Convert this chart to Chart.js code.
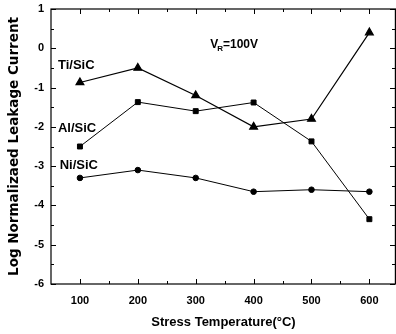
<!DOCTYPE html>
<html>
<head>
<meta charset="utf-8">
<script src="https://cdn.jsdelivr.net/npm/chart.js@4"></script>
<style>
  html, body { margin: 0; padding: 0; background: #fff; }
  #wrap { width: 396px; height: 334px; position: relative; }
</style>
</head>
<body>
<div id="wrap"><canvas id="leakChart"></canvas></div>
<script>
const temps = [100, 200, 300, 400, 500, 600];
const tiSiC = [-0.87, -0.5, -1.2, -2.0, -1.8, 0.4];
const alSiC = [-2.5, -1.37, -1.6, -1.38, -2.37, -4.35];
const niSiC = [-3.3, -3.1, -3.3, -3.65, -3.6, -3.65];
const xTicks = [100, 200, 300, 400, 500, 600];
const yTicks = [1, 0, -1, -2, -3, -4, -5, -6];

const FONT = '"Liberation Sans", Arial, sans-serif';

function toPoints(vals) {
    return temps.map((t, i) => ({ x: t, y: vals[i] }));
}

function noPadding(scale) {
    scale.paddingLeft = 0;
    scale.paddingRight = 0;
    scale.paddingTop = 0;
    scale.paddingBottom = 0;
}

// frame, inward ticks and text labels inside the plot
const framePlugin = {
    id: 'frame',
    afterDraw(chart) {
        const { ctx, chartArea: a, scales: { x, y } } = chart;
        ctx.save();
        ctx.strokeStyle = '#000';
        ctx.lineWidth = 1.2;
        ctx.strokeRect(a.left, a.top, a.right - a.left - 0.6, a.bottom - a.top);

        ctx.lineWidth = 1;
        ctx.beginPath();
        for (let v = 100; v <= 650; v += 50) {
            const px = Math.round(x.getPixelForValue(v)) + 0.5;
            if (px > a.right - 1) continue;
            const len = v % 100 === 0 ? 5 : 3;
            ctx.moveTo(px, a.bottom); ctx.lineTo(px, a.bottom - len);
            ctx.moveTo(px, a.top); ctx.lineTo(px, a.top + len);
        }
        for (let v = -6; v <= 1; v += 0.5) {
            const py = Math.round(y.getPixelForValue(v)) + 0.5;
            const len = Number.isInteger(v) ? 5 : 3;
            ctx.moveTo(a.left, py); ctx.lineTo(a.left + len, py);
            ctx.moveTo(a.right - 1, py); ctx.lineTo(a.right - 1 - len, py);
        }
        ctx.stroke();

        ctx.fillStyle = '#000';
        ctx.font = 'bold 13px ' + FONT;
        ctx.textBaseline = 'middle';
        ctx.textAlign = 'left';
        ctx.fillText('Ti/SiC', x.getPixelForValue(62), y.getPixelForValue(-0.43));
        ctx.fillText('Al/SiC', x.getPixelForValue(62), y.getPixelForValue(-2.03));
        ctx.fillText('Ni/SiC', x.getPixelForValue(65), y.getPixelForValue(-2.97));

        // V_R = 100V
        const vx = x.getPixelForValue(325);
        const vy = y.getPixelForValue(0.08);
        ctx.font = 'bold 12px ' + FONT;
        ctx.fillText('V', vx, vy);
        const vw = ctx.measureText('V').width;
        ctx.font = 'bold 8px ' + FONT;
        ctx.fillText('R', vx + vw - 1, vy + 4);
        const rw = ctx.measureText('R').width;
        ctx.font = 'bold 12px ' + FONT;
        ctx.fillText('=100V', vx + vw - 1 + rw, vy);
        ctx.restore();
    }
};

new Chart(document.getElementById('leakChart'), {
    type: 'line',
    data: {
        datasets: [
            {
                label: 'Ti/SiC',
                data: toPoints(tiSiC),
                borderColor: '#000',
                backgroundColor: '#000',
                borderWidth: 1.2,
                pointStyle: 'triangle',
                pointRadius: 4.5,
                tension: 0
            },
            {
                label: 'Al/SiC',
                data: toPoints(alSiC),
                borderColor: '#000',
                backgroundColor: '#000',
                borderWidth: 1,
                pointStyle: 'rect',
                pointRadius: 3.5,
                tension: 0
            },
            {
                label: 'Ni/SiC',
                data: toPoints(niSiC),
                borderColor: '#000',
                backgroundColor: '#000',
                borderWidth: 1,
                pointStyle: 'circle',
                pointRadius: 2.8,
                tension: 0
            }
        ]
    },
    options: {
        responsive: true,
        maintainAspectRatio: false,
        animation: false,
        layout: { autoPadding: false, padding: { top: 9, right: 0, left: 0, bottom: 0 } },
        plugins: {
            legend: { display: false },
            tooltip: { enabled: false }
        },
        scales: {
            x: {
                type: 'linear',
                min: 50,
                max: 646,
                afterBuildTicks: (scale) => { scale.ticks = xTicks.map(v => ({ value: v })); },
                afterFit: (scale) => { scale.height = 50; noPadding(scale); },
                grid: { display: false, drawTicks: false },
                border: { display: false },
                ticks: {
                    color: '#000',
                    padding: 10,
                    maxRotation: 0,
                    font: { family: FONT, size: 11, weight: 'bold' }
                },
                title: {
                    display: true,
                    text: 'Stress Temperature(°C)',
                    color: '#000',
                    padding: { top: 0, bottom: 4 },
                    font: { family: FONT, size: 13, weight: 'bold' }
                }
            },
            y: {
                type: 'linear',
                min: -6,
                max: 1,
                afterBuildTicks: (scale) => { scale.ticks = yTicks.map(v => ({ value: v })); },
                afterFit: (scale) => { scale.width = 51; noPadding(scale); },
                grid: { display: false, drawTicks: false },
                border: { display: false },
                ticks: {
                    color: '#000',
                    padding: 7,
                    font: { family: FONT, size: 11, weight: 'bold' }
                },
                title: {
                    display: true,
                    text: 'Log Normalizaed Leakage Current',
                    color: '#000',
                    padding: { top: 6, bottom: 0 },
                    font: { family: '"DejaVu Sans", sans-serif', size: 13.5, weight: 'bold' }
                }
            }
        }
    },
    plugins: [framePlugin]
});
</script>
</body>
</html>
